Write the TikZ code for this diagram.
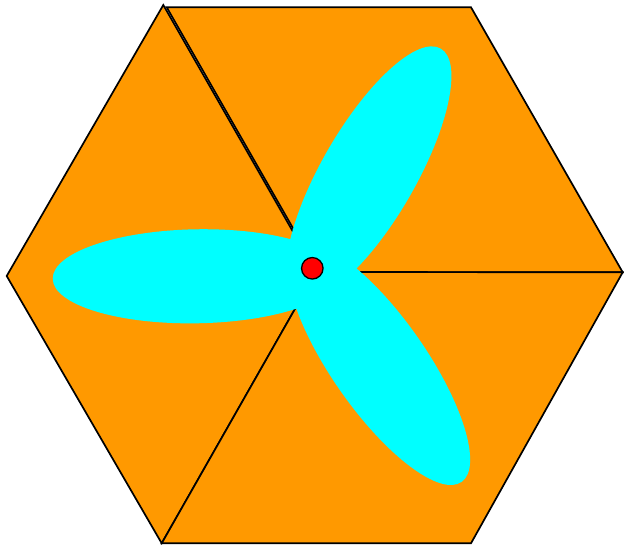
\documentclass[tikz,border=0pt]{standalone}
\usetikzlibrary{positioning}
\definecolor{hexorange}{HTML}{FF9900}
\definecolor{petalcyan}{HTML}{00FFFF}
\begin{document}
\begin{tikzpicture}[x=1pt, y=1pt,
hexpart/.style={fill=hexorange, draw=black, line width=1.7pt},
petal/.style={fill=petalcyan},
hubdot/.style={circle, fill=red, draw=black, line width=1.3pt, minimum size=21.5pt, inner sep=0pt}
]
\useasboundingbox (0,0) rectangle (624,545);

\coordinate (mid) at (316,273);
\coordinate (mid2) at (318,273);

% three pieces of the hexagon
\draw[hexpart] (163.3,540) -- (6.7,269) -- (161.7,1.7) -- (mid) -- cycle;
\draw[hexpart] (166.7,537.7) -- (471,537.7) -- (622.7,272.7) -- (mid2) -- cycle;
\draw[hexpart] (622.7,272.7) -- (471,1.7) -- (161.7,1.7) -- (mid) -- cycle;

% propeller blades
\fill[petal] (196.7,268.7) ellipse [x radius=144, y radius=47, rotate=1];
\fill[petal] (368.7,371.7) ellipse [x radius=144, y radius=47, rotate=60];
\fill[petal] (379,181) ellipse [x radius=144, y radius=47, rotate=-55];

\node[hubdot] (hub) at (312.3,276.7) {};

\end{tikzpicture}
\end{document}
